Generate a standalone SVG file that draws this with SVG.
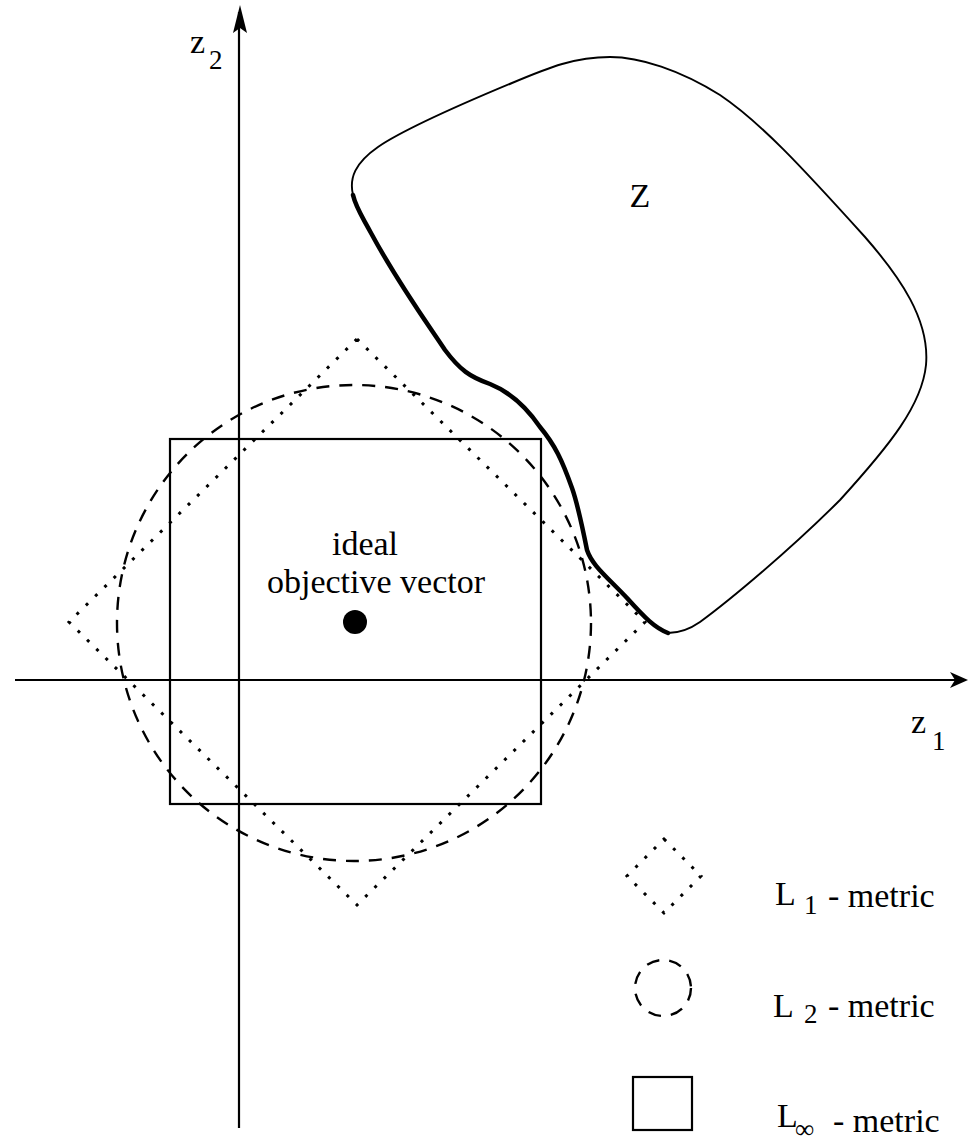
<svg xmlns="http://www.w3.org/2000/svg" width="972" height="1143" viewBox="0 0 972 1143">
<style>
text{font-family:"Liberation Serif","Times New Roman",serif;font-size:34px;fill:#000}
.sub{font-size:27px}
.ln{fill:none;stroke:#000}
.dot{fill:none;stroke:#000;stroke-width:3;stroke-dasharray:3 10}
.dash{fill:none;stroke:#000;stroke-width:2.4;stroke-dasharray:13 10}
.sq{fill:none;stroke:#000;stroke-width:2.2}
</style>
<rect width="972" height="1143" fill="#fff"/>
<g id="axes">
<line class="ln" x1="239" y1="12" x2="239" y2="1128" stroke-width="2.2"/>
<polygon points="240,5 233,33 240,28 247,33" fill="#000"/>
<line class="ln" x1="15" y1="680" x2="958" y2="680" stroke-width="2.2"/>
<polygon points="968,680 950,672 955,680 950,688" fill="#000"/>
<text x="190" y="53">z</text><text class="sub" x="209" y="69">2</text>
<text x="911" y="733">z</text><text class="sub" x="932" y="750">1</text>
</g>
<g id="set-Z">
<path class="ln" stroke-width="1.9" d="M 353 195 C 349 178, 355 163, 378 147 C 400 132, 440 113, 512 83 C 550 67, 575 57, 610 57 C 640 57, 680 70, 720 95 C 760 122, 800 165, 865 237 C 900 277, 930 320, 926 365 C 922 405, 890 445, 840 500 C 790 550, 730 600, 700 622 C 690 629, 680 633, 668 633"/>
<path class="ln" stroke-width="4.5" stroke-linecap="round" d="M 668 633 C 655 628, 645 618, 627 598 C 605 575, 592 565, 587 550 C 582 525, 578 505, 572 488 C 562 460, 555 445, 540 427 C 525 405, 510 392, 490 384 C 470 377, 460 370, 445 350 C 425 320, 398 283, 371 233 C 362 216, 356 208, 353 195"/>
<text x="640" y="207" text-anchor="middle">Z</text>
</g>
<g id="L1-diamond">
<polygon class="dot" points="357,339 645,622 357,905 69,622"/>
</g>
<g id="L2-circle">
<ellipse class="dash" cx="354" cy="623" rx="237" ry="238"/>
</g>
<g id="Linf-square">
<rect class="sq" x="170" y="439" width="371" height="365"/>
</g>
<g id="ideal-point">
<circle cx="355" cy="622" r="12" fill="#000"/>
<text x="365" y="555" text-anchor="middle">ideal</text>
<text x="376" y="593" text-anchor="middle">objective vector</text>
</g>
<g id="legend">
<polygon class="dot" stroke-dasharray="2.5 8" points="664,839 701,876 664,913 627,876"/>
<circle class="dash" stroke-dasharray="9 8" cx="663" cy="988" r="28"/>
<rect class="sq" x="633" y="1077" width="59" height="53"/>
<text x="775" y="905">L</text><text class="sub" x="804" y="914">1</text><text x="828" y="907">- metric</text>
<text x="773" y="1017">L</text><text class="sub" x="804" y="1023">2</text><text x="828" y="1017">- metric</text>
<text x="777" y="1127">L</text><text class="sub" x="795" y="1138">∞</text><text x="833" y="1132">- metric</text>
</g>
</svg>
